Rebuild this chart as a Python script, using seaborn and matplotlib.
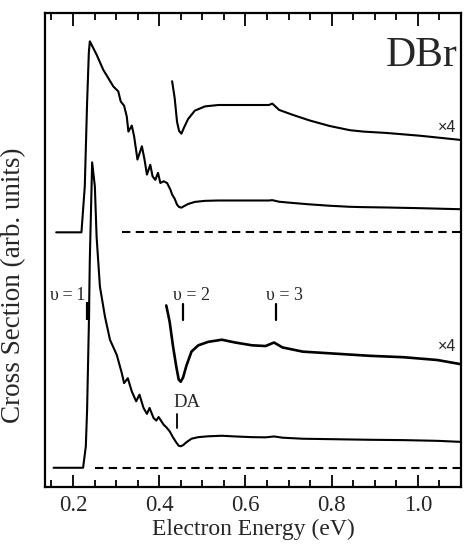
import numpy as np
import pandas as pd
import matplotlib
matplotlib.use("Agg")
import matplotlib.pyplot as plt
from matplotlib.ticker import MultipleLocator, FixedLocator
import seaborn as sns

# Electron energy (eV) and cross section (arb. units) of DBr, lower trace
low_E = [0.155, 0.2234, 0.2297, 0.2327, 0.2367, 0.239, 0.2444, 0.2507, 0.2547, 0.2624,
         0.274, 0.2857, 0.3014, 0.3131, 0.3185, 0.3271, 0.3364, 0.3465, 0.3542, 0.3636,
         0.3715, 0.3776, 0.3869, 0.3932, 0.3986, 0.4103,
         0.4163, 0.4241, 0.4319, 0.4397, 0.4452, 0.4498, 0.4553, 0.4631, 0.4748, 0.4905,
         0.5139, 0.5452, 0.5764, 0.6155, 0.6467, 0.6663, 0.6858, 0.7327, 0.8108, 0.8889,
         0.967, 1.0452, 1.1]
low_sig = [0, 0, 6.1, 16.6, 40.4, 59.5, 87.3, 80.4, 66.1, 51.8,
           43.3, 36.6, 32.3, 27.1, 24.2, 25.6, 21.8, 19.0, 20.9, 17.1,
           15.4, 17.1, 14.2, 13.5, 14.5, 12.3,
           11.6, 10.45, 8.7, 7.2, 6.3, 6.15, 6.45, 7.3, 8.3, 8.75,
           9.0, 9.15, 8.95, 8.75, 8.7, 8.95, 8.6, 8.3, 8.15, 8.0,
           7.9, 7.7, 7.4]

# Upper trace
up_E = [0.161, 0.2196, 0.2273, 0.2327, 0.2367, 0.239, 0.2547, 0.270, 0.2935, 0.305,
        0.3107, 0.3185, 0.3247, 0.3285, 0.3364, 0.3418, 0.3495, 0.3598, 0.3659, 0.3715,
        0.3792, 0.3846, 0.3909, 0.3972, 0.4026, 0.4103, 0.4182, 0.4259,
        0.4299, 0.4358, 0.4413, 0.446, 0.4514, 0.4577, 0.467, 0.4827, 0.5061, 0.5373,
        0.5764, 0.6233, 0.6545, 0.6623, 0.678, 0.7092, 0.7483, 0.7952, 0.842, 0.8733,
        0.928, 1.006, 1.1]
up_sig = [0, 0, 13.1, 37.1, 51.3, 54.6, 50.8, 46.5, 41.7, 40.3,
          37.4, 36.2, 33.1, 28.8, 30.5, 27.4, 20.8, 24.6, 20.8, 16.5,
          19.3, 16.0, 15.0, 17.0, 14.1, 14.6, 14.1, 12.2,
          10.8, 9.6, 7.9, 7.25, 7.05, 7.5, 8.1, 8.7, 9.0, 9.1,
          9.1, 9.1, 9.1, 9.2, 8.75, 8.4, 8.0, 7.6, 7.3, 7.2,
          7.1, 6.9, 6.6]

# Magnification of the enlarged traces and where they begin
zoom_factor = 4
zoom_start = [0.414, 0.429]          # lower, upper
dash_start = [0.252, 0.313]          # zero-level dashed lines, lower, upper
trace_offset = [0.0, 67.3]           # vertical shift of lower / upper trace

# Vibrational thresholds and dissociative-attachment marker
vib_E = [0.234, 0.454, 0.670]
vib_labels = ["\u03c5\u2009=\u20091", "\u03c5 = 2", "\u03c5 = 3"]
da_E = 0.442

sns.set_theme(style="ticks")
plt.rcParams["font.family"] = ["Liberation Serif", "DejaVu Serif"]

fig = plt.figure(figsize=(4.71, 5.48), dpi=100)
ax = fig.add_axes([0.0955, 0.1113, 0.8833, 0.865])

xmax = 1.1
line_kw = dict(color="black", estimator=None, sort=False, legend=False)

for E, sig, off, z0, zlw in [(low_E, low_sig, trace_offset[0], zoom_start[0], 1.9),
                             (up_E, up_sig, trace_offset[1], zoom_start[1], 1.5)]:
    df = pd.DataFrame({"E": E, "sig": sig})
    df["y"] = df["sig"] + off
    sns.lineplot(data=df, x="E", y="y", ax=ax, linewidth=1.5, **line_kw)
    dz = df[df["E"] >= z0].copy()
    dz["y"] = dz["sig"] * zoom_factor + off
    sns.lineplot(data=dz, x="E", y="y", ax=ax, linewidth=zlw, **line_kw)

for x0, off in zip(dash_start, trace_offset):
    ax.plot([x0, xmax], [off, off], color="black", linewidth=1.5,
            linestyle=(0, (4, 2.6)))

# threshold tick marks and labels
ax.plot([vib_E[0], vib_E[0]], [42.3, 47.3], color="black", linewidth=3.0,
        solid_capstyle="butt")
ax.text(vib_E[0] - 0.006, 48.0, vib_labels[0], ha="right", va="baseline",
        fontsize=13)
for e, lab in zip(vib_E[1:], vib_labels[1:]):
    ax.plot([e, e], [42.3, 46.8], color="black", linewidth=1.6)
    ax.text(e - 0.022, 48.0, lab, ha="left", va="baseline", fontsize=13)

ax.plot([da_E, da_E], [11.3, 15.3], color="black", linewidth=1.3)
ax.text(da_E - 0.010, 17.3, "DA", ha="left", va="baseline", fontsize=13.5)

ax.text(1.088, 96.0, "\u00d74", ha="right", va="baseline", fontsize=11.5,
        family=["Liberation Sans", "DejaVu Sans"])
ax.text(1.088, 33.3, "\u00d74", ha="right", va="baseline", fontsize=11.5,
        family=["Liberation Sans", "DejaVu Sans"])
ax.text(1.092, 114.8, "DBr", ha="right", va="baseline", fontsize=30)

ax.set_xlim(0.135, xmax)
ax.set_ylim(-5.5, 130)
ax.xaxis.set_major_locator(FixedLocator([0.2, 0.4, 0.6, 0.8, 1.0]))
ax.xaxis.set_minor_locator(MultipleLocator(0.05))
ax.set_xticklabels(["0.2", "0.4", "0.6", "0.8", "1.0"])
ax.set_yticks([])
ax.tick_params(axis="x", which="both", direction="in", top=True, bottom=True,
               width=1.3, color="black", labelsize=16.5, pad=6)
ax.tick_params(axis="x", which="major", length=9)
ax.tick_params(axis="x", which="minor", length=5)
for s in ax.spines.values():
    s.set_visible(True)
    s.set_linewidth(1.6)
    s.set_color("black")

ax.set_xlabel("Electron Energy (eV)", fontsize=17, labelpad=2)
ax.set_ylabel("Cross Section (arb. units)", fontsize=19.5, labelpad=4)
ax.yaxis.set_label_coords(-0.045, 0.425)

fig.savefig("out.png", dpi=100, facecolor="white")
